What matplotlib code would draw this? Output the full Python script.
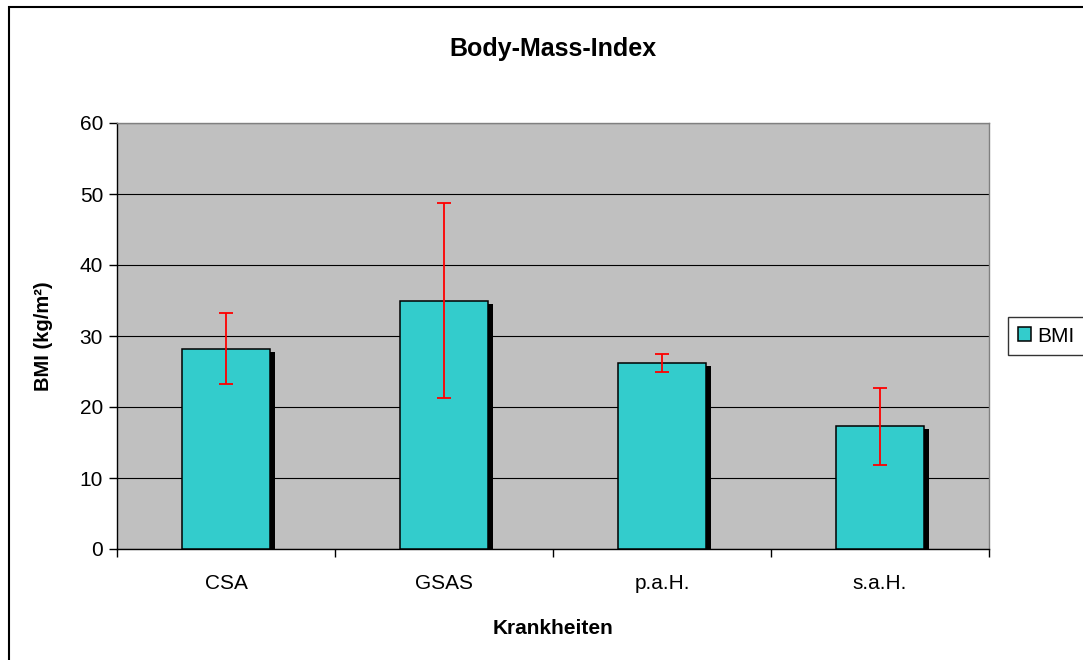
import numpy as np
import matplotlib
matplotlib.use("Agg")
import matplotlib.pyplot as plt
import matplotlib.patheffects as pe
from matplotlib.patches import Rectangle

plt.rcParams['font.family'] = ['Liberation Sans', 'DejaVu Sans']

categories = ["CSA", "GSAS", "p.a.H.", "s.a.H."]
bmi = [28.2, 35.0, 26.2, 17.3]
bmi_err = [5.0, 13.7, 1.3, 5.4]

fig = plt.figure(figsize=(10.83, 6.6), dpi=100)
fig.patches.append(Rectangle((9/1083, -0.1), 1.2, 1 - 7/660 + 0.1, transform=fig.transFigure,
                             fill=False, edgecolor="black", linewidth=1.5))

ax = fig.add_axes([117/1083, 111/660, 872/1083, 426/660])
ax.set_facecolor("#C0C0C0")

x = np.arange(len(categories))
shadow = [pe.SimplePatchShadow(offset=(3.6, -2.2), shadow_rgbFace="black", alpha=1.0), pe.Normal()]
bars = ax.bar(x, bmi, width=0.4, color="#33CCCC", edgecolor="black", linewidth=1.1,
              label="BMI", zorder=3)
for b in bars:
    b.set_path_effects(shadow)
ax.errorbar(x, bmi, yerr=bmi_err, fmt="none", ecolor="#FF0000", elinewidth=1.3,
            capsize=5, capthick=1.3, zorder=4)

ax.set_xlim(-0.5, len(categories) - 0.5)
ax.set_ylim(0, 60)
ax.set_yticks(range(0, 61, 10))
ax.yaxis.grid(True, color="black", linewidth=0.8)
ax.set_axisbelow(True)

ax.set_xticks(x)
ax.set_xticklabels(categories)
ax.set_xticks(np.arange(-0.5, len(categories)), minor=True)
ax.tick_params(axis="x", which="major", length=0, pad=18, labelsize=15)
ax.tick_params(axis="x", which="minor", length=6, width=1)
ax.tick_params(axis="y", length=6, width=1, labelsize=15, pad=4)

for s in ["top", "right"]:
    ax.spines[s].set_color("#808080")
    ax.spines[s].set_linewidth(1)
for s in ["left", "bottom"]:
    ax.spines[s].set_color("black")
    ax.spines[s].set_linewidth(1)

ax.set_title("Body-Mass-Index", fontsize=18, fontweight="bold", pad=48)
ax.set_ylabel("BMI (kg/m²)", fontsize=14.5, fontweight="bold", labelpad=19)
ax.set_xlabel("Krankheiten", fontsize=15, fontweight="bold", labelpad=19)

leg = ax.legend(loc="center left", bbox_to_anchor=(1.022, 0.5), borderaxespad=0, fontsize=15,
                frameon=True, fancybox=False, edgecolor="black", handlelength=0.65,
                handleheight=0.65, handletextpad=0.3, borderpad=0.45)
leg.get_frame().set_linewidth(1)
for h in leg.legend_handles:
    h.set_path_effects([])

fig.savefig("out.png", dpi=100)
